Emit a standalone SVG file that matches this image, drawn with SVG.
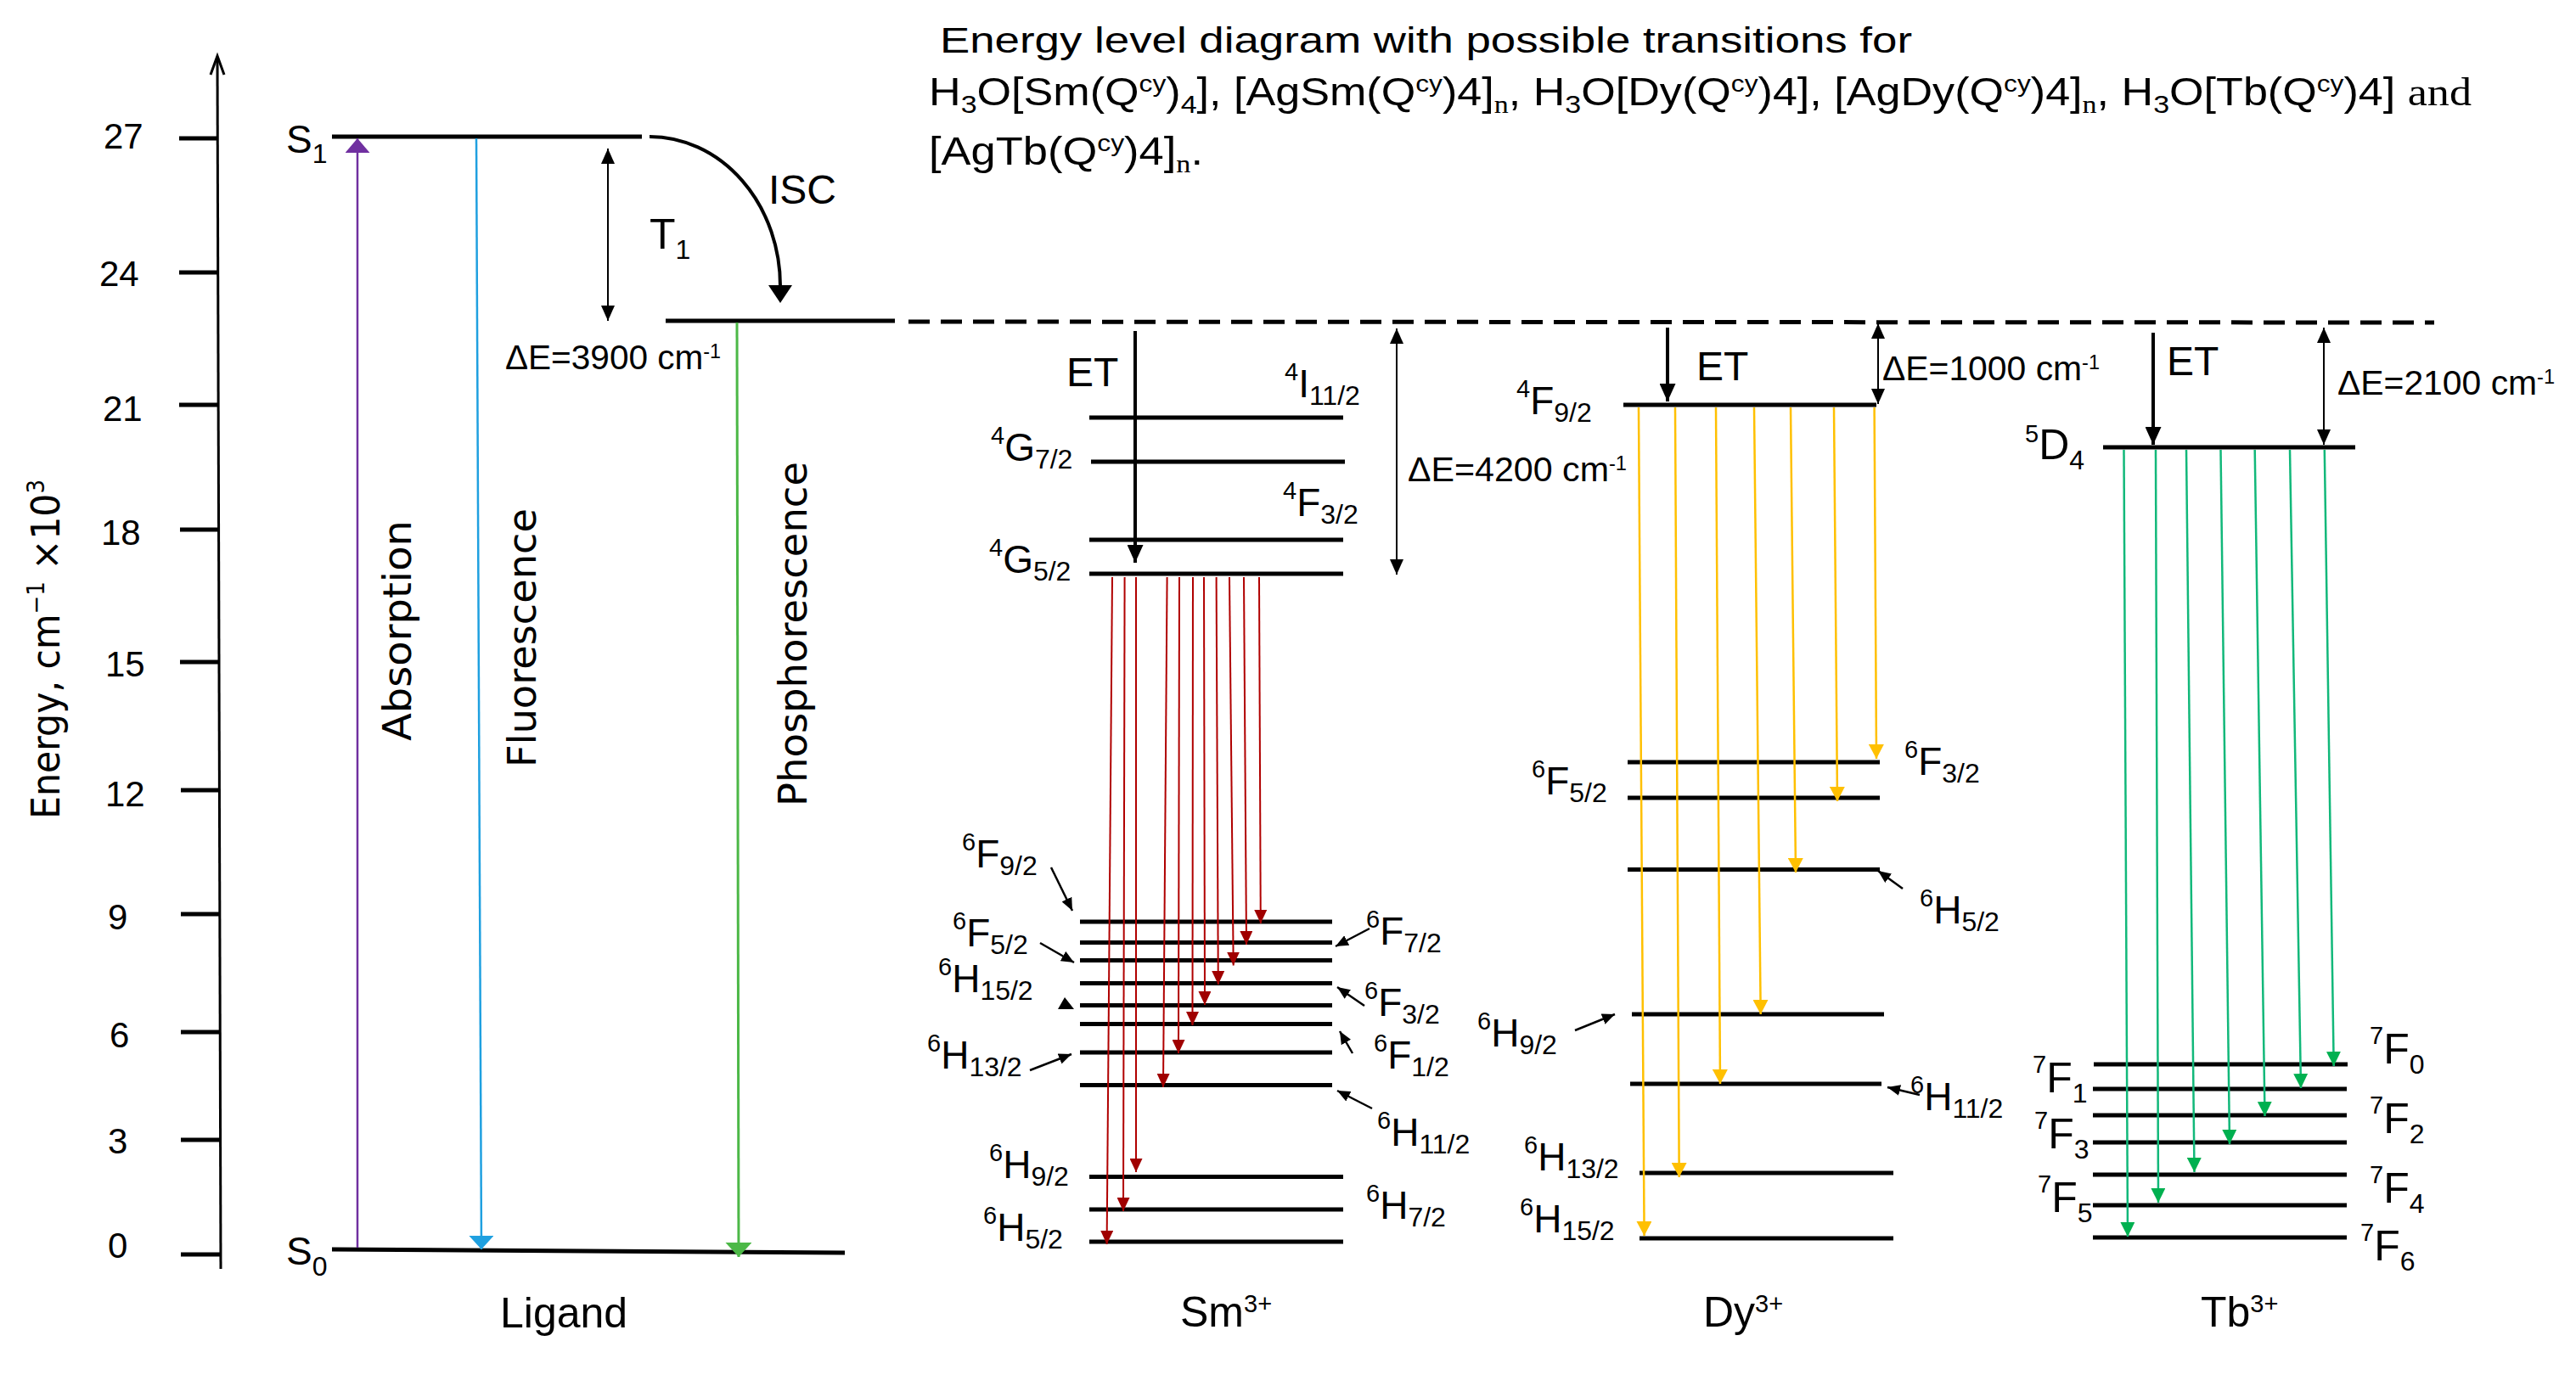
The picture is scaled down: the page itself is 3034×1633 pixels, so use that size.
<svg xmlns="http://www.w3.org/2000/svg" width="3034" height="1633" viewBox="0 0 3034 1633">
<defs>
<style>
text{font-family:"Liberation Sans",Arial,sans-serif;fill:#000}
.lv{stroke:#000;stroke-width:5;fill:none}
.lb{font-size:46px}
.su{font-size:29px}
.sb{font-size:32px}
.tb{font-size:50px}
.tk{font-size:42px}
.vt{font-family:"DejaVu Sans",Verdana,sans-serif;font-size:46px}
.de{font-size:40px}
.ds{font-size:23px}
.et{font-size:48px}
.ion{font-size:50px}
.t1{font-size:42px}
.t2{font-size:46px}
.tsub{font-size:30px}
.tsup{font-size:28px}
.serif{font-family:"Liberation Serif","Times New Roman",serif}
.red{stroke:#B00000;stroke-width:2;fill:none;marker-end:url(#mR)}
.yel{stroke:#FFC000;stroke-width:2.5;fill:none;marker-end:url(#mY)}
.grn{stroke:#12B87A;stroke-width:2.5;fill:none;marker-end:url(#mG)}
.dbl{stroke:#000;stroke-width:2;fill:none;marker-start:url(#mK);marker-end:url(#mK)}
.ptr{stroke:#000;stroke-width:2.5;fill:none;marker-end:url(#mS)}
.etA{stroke:#000;stroke-width:4;fill:none;marker-end:url(#mE)}
</style>
<marker id="mK" viewBox="0 0 18 16" refX="18" refY="8" markerWidth="18" markerHeight="16" markerUnits="userSpaceOnUse" orient="auto-start-reverse"><path d="M0,0L18,8L0,16z" fill="#000"/></marker>
<marker id="mS" viewBox="0 0 15 13" refX="15" refY="6.5" markerWidth="15" markerHeight="13" markerUnits="userSpaceOnUse" orient="auto"><path d="M0,0L15,6.5L0,13z" fill="#000"/></marker>
<marker id="mE" viewBox="0 0 21 19" refX="21" refY="9.5" markerWidth="21" markerHeight="19" markerUnits="userSpaceOnUse" orient="auto"><path d="M0,0L21,9.5L0,19z" fill="#000"/></marker>
<marker id="mR" viewBox="0 0 16 15" refX="16" refY="7.5" markerWidth="16" markerHeight="15" markerUnits="userSpaceOnUse" orient="auto"><path d="M0,0L16,7.5L0,15z" fill="#A00000"/></marker>
<marker id="mY" viewBox="0 0 17 18" refX="17" refY="9" markerWidth="17" markerHeight="18" markerUnits="userSpaceOnUse" orient="auto"><path d="M0,0L17,9L0,18z" fill="#FFC000"/></marker>
<marker id="mG" viewBox="0 0 17 17" refX="17" refY="8.5" markerWidth="17" markerHeight="17" markerUnits="userSpaceOnUse" orient="auto"><path d="M0,0L17,8.5L0,17z" fill="#00B050"/></marker>
<marker id="mP" viewBox="0 0 17 29" refX="17" refY="14.5" markerWidth="17" markerHeight="29" markerUnits="userSpaceOnUse" orient="auto"><path d="M0,0L17,14.5L0,29z" fill="#7030A0"/></marker>
<marker id="mB" viewBox="0 0 16 29" refX="16" refY="14.5" markerWidth="16" markerHeight="29" markerUnits="userSpaceOnUse" orient="auto"><path d="M0,0L16,14.5L0,29z" fill="#1FA0E0"/></marker>
<marker id="mF" viewBox="0 0 17 31" refX="17" refY="15.5" markerWidth="17" markerHeight="31" markerUnits="userSpaceOnUse" orient="auto"><path d="M0,0L17,15.5L0,31z" fill="#4CB847"/></marker>
</defs>
<rect width="3034" height="1633" fill="#fff"/>

<g id="title">
<text class="t1" x="1107" y="62" textLength="1145" lengthAdjust="spacingAndGlyphs">Energy level diagram with possible transitions for</text>
<text class="t2" x="1094" y="124" textLength="1817" lengthAdjust="spacingAndGlyphs">H<tspan class="tsub" dy="9">3</tspan><tspan dy="-9">O[Sm(Q</tspan><tspan class="tsup" dy="-16">cy</tspan><tspan dy="16">)</tspan><tspan class="tsub" dy="9">4</tspan><tspan dy="-9">], [AgSm(Q</tspan><tspan class="tsup" dy="-16">cy</tspan><tspan dy="16">)4]</tspan><tspan class="tsub serif" dy="9">n</tspan><tspan dy="-9">, H</tspan><tspan class="tsub" dy="9">3</tspan><tspan dy="-9">O[Dy(Q</tspan><tspan class="tsup" dy="-16">cy</tspan><tspan dy="16">)4], [AgDy(Q</tspan><tspan class="tsup" dy="-16">cy</tspan><tspan dy="16">)4]</tspan><tspan class="tsub serif" dy="9">n</tspan><tspan dy="-9">, H</tspan><tspan class="tsub" dy="9">3</tspan><tspan dy="-9">O[Tb(Q</tspan><tspan class="tsup" dy="-16">cy</tspan><tspan dy="16">)4] </tspan><tspan class="serif">and</tspan></text>
<text class="t2" x="1094" y="194" textLength="323" lengthAdjust="spacingAndGlyphs">[AgTb(Q<tspan class="tsup" dy="-16">cy</tspan><tspan dy="16">)4]</tspan><tspan class="tsub serif" dy="9">n</tspan><tspan dy="-9">.</tspan></text>
</g>

<g id="axis">
<line x1="256" y1="67" x2="260" y2="1495" stroke="#000" stroke-width="3"/>
<polyline points="248,88 256,66 264,88" fill="none" stroke="#000" stroke-width="3"/>
<g stroke="#000" stroke-width="5">
<line x1="211" y1="163" x2="257" y2="163"/>
<line x1="211" y1="321" x2="257" y2="321"/>
<line x1="211" y1="477" x2="257" y2="477"/>
<line x1="212" y1="624" x2="258" y2="624"/>
<line x1="212" y1="780" x2="258" y2="780"/>
<line x1="213" y1="931" x2="258" y2="931"/>
<line x1="213" y1="1077" x2="259" y2="1077"/>
<line x1="213" y1="1216" x2="259" y2="1216"/>
<line x1="213" y1="1343" x2="259" y2="1343"/>
<line x1="213" y1="1478" x2="259" y2="1478"/>
</g>
<text class="tk" x="122" y="175">27</text>
<text class="tk" x="117" y="337">24</text>
<text class="tk" x="121" y="496">21</text>
<text class="tk" x="119" y="642">18</text>
<text class="tk" x="124" y="797">15</text>
<text class="tk" x="124" y="950">12</text>
<text class="tk" x="127" y="1095">9</text>
<text class="tk" x="129" y="1234">6</text>
<text class="tk" x="127" y="1359">3</text>
<text class="tk" x="127" y="1482">0</text>
<text class="vt" transform="translate(70,965) rotate(-90)" x="0" y="0" font-size="44" textLength="400" lengthAdjust="spacingAndGlyphs">Energy, cm<tspan font-size="28" dy="-18">−1</tspan><tspan dy="18"> ×10</tspan><tspan font-size="28" dy="-18">3</tspan></text>
</g>

<g id="ligand">
<line class="lv" x1="391" y1="161" x2="756" y2="161"/>
<text class="lb" x="337" y="180">S<tspan class="sb" dy="12">1</tspan></text>
<line class="lv" x1="784" y1="378" x2="1054" y2="378"/>
<text class="tb" x="765" y="293">T<tspan class="sb" dy="12">1</tspan></text>
<path class="lv" d="M391,1472 L995,1476"/>
<text class="lb" x="337" y="1490">S<tspan class="sb" dy="13">0</tspan></text>
<text x="589" y="1564" font-size="50">Ligand</text>
<text x="905" y="240" font-size="48">ISC</text>
<text class="de" x="595" y="435" textLength="254" lengthAdjust="spacingAndGlyphs">ΔE=3900 cm<tspan class="ds" dy="-13">-1</tspan></text>
<text class="vt" transform="translate(484,873) rotate(-90)" x="0" y="0" fill="#7030A0" textLength="260" lengthAdjust="spacingAndGlyphs">Absorption</text>
<text class="vt" transform="translate(631,904) rotate(-90)" x="0" y="0" fill="#0070C0" textLength="305" lengthAdjust="spacingAndGlyphs">Fluorescence</text>
<text class="vt" transform="translate(950,950) rotate(-90)" x="0" y="0" fill="#92D050" textLength="406" lengthAdjust="spacingAndGlyphs">Phosphorescence</text>
</g>

<g id="sm">
<g class="lv">
<line x1="1283" y1="492" x2="1582" y2="492"/>
<line x1="1285" y1="544" x2="1584" y2="544"/>
<line x1="1283" y1="636" x2="1582" y2="636"/>
<line x1="1283" y1="676" x2="1582" y2="676"/>
<line x1="1272" y1="1086" x2="1569" y2="1086"/>
<line x1="1272" y1="1110.5" x2="1569" y2="1110.5"/>
<line x1="1272" y1="1131.5" x2="1569" y2="1131.5"/>
<line x1="1272" y1="1158.5" x2="1569" y2="1158.5"/>
<line x1="1272" y1="1184.5" x2="1569" y2="1184.5"/>
<line x1="1272" y1="1206.5" x2="1569" y2="1206.5"/>
<line x1="1272" y1="1240" x2="1569" y2="1240"/>
<line x1="1272" y1="1278.5" x2="1569" y2="1278.5"/>
<line x1="1283" y1="1386.5" x2="1582" y2="1386.5"/>
<line x1="1283" y1="1425" x2="1582" y2="1425"/>
<line x1="1283" y1="1463" x2="1582" y2="1463"/>
</g>
<text class="lb" x="1513" y="468"><tspan class="su" dy="-20">4</tspan><tspan dy="20">I</tspan><tspan class="sb" dy="9">11/2</tspan></text>
<text class="lb" x="1167" y="543"><tspan class="su" dy="-20">4</tspan><tspan dy="20">G</tspan><tspan class="sb" dy="9">7/2</tspan></text>
<text class="lb" x="1511" y="608"><tspan class="su" dy="-20">4</tspan><tspan dy="20">F</tspan><tspan class="sb" dy="9">3/2</tspan></text>
<text class="lb" x="1165" y="675"><tspan class="su" dy="-20">4</tspan><tspan dy="20">G</tspan><tspan class="sb" dy="9">5/2</tspan></text>
<text class="lb" x="1133" y="1022"><tspan class="su" dy="-20">6</tspan><tspan dy="20">F</tspan><tspan class="sb" dy="9">9/2</tspan></text>
<text class="lb" x="1122" y="1115"><tspan class="su" dy="-20">6</tspan><tspan dy="20">F</tspan><tspan class="sb" dy="9">5/2</tspan></text>
<text class="lb" x="1105" y="1169"><tspan class="su" dy="-20">6</tspan><tspan dy="20">H</tspan><tspan class="sb" dy="9">15/2</tspan></text>
<text class="lb" x="1092" y="1259"><tspan class="su" dy="-20">6</tspan><tspan dy="20">H</tspan><tspan class="sb" dy="9">13/2</tspan></text>
<text class="lb" x="1609" y="1113"><tspan class="su" dy="-20">6</tspan><tspan dy="20">F</tspan><tspan class="sb" dy="9">7/2</tspan></text>
<text class="lb" x="1607" y="1197"><tspan class="su" dy="-20">6</tspan><tspan dy="20">F</tspan><tspan class="sb" dy="9">3/2</tspan></text>
<text class="lb" x="1618" y="1259"><tspan class="su" dy="-20">6</tspan><tspan dy="20">F</tspan><tspan class="sb" dy="9">1/2</tspan></text>
<text class="lb" x="1622" y="1350"><tspan class="su" dy="-20">6</tspan><tspan dy="20">H</tspan><tspan class="sb" dy="9">11/2</tspan></text>
<text class="lb" x="1165" y="1388"><tspan class="su" dy="-20">6</tspan><tspan dy="20">H</tspan><tspan class="sb" dy="9">9/2</tspan></text>
<text class="lb" x="1609" y="1436"><tspan class="su" dy="-20">6</tspan><tspan dy="20">H</tspan><tspan class="sb" dy="9">7/2</tspan></text>
<text class="lb" x="1158" y="1462"><tspan class="su" dy="-20">6</tspan><tspan dy="20">H</tspan><tspan class="sb" dy="9">5/2</tspan></text>
<text class="et" x="1256" y="455">ET</text>
<text class="de" x="1658" y="567" textLength="258" lengthAdjust="spacingAndGlyphs">ΔE=4200 cm<tspan class="ds" dy="-13">-1</tspan></text>
<text class="ion" x="1390" y="1563">Sm<tspan class="su" dy="-17">3+</tspan></text>
</g>

<g id="dy">
<g class="lv">
<line x1="1912" y1="477" x2="2210" y2="477"/>
<line x1="1917" y1="898" x2="2214" y2="898"/>
<line x1="1917" y1="940" x2="2214" y2="940"/>
<line x1="1917" y1="1024.5" x2="2214" y2="1024.5"/>
<line x1="1922" y1="1195" x2="2219" y2="1195"/>
<line x1="1920" y1="1277" x2="2216" y2="1277"/>
<line x1="1931" y1="1382" x2="2230" y2="1382"/>
<line x1="1931" y1="1459" x2="2230" y2="1459"/>
</g>
<text class="lb" x="1786" y="488"><tspan class="su" dy="-20">4</tspan><tspan dy="20">F</tspan><tspan class="sb" dy="9">9/2</tspan></text>
<text class="lb" x="2243" y="913"><tspan class="su" dy="-20">6</tspan><tspan dy="20">F</tspan><tspan class="sb" dy="9">3/2</tspan></text>
<text class="lb" x="1804" y="936"><tspan class="su" dy="-20">6</tspan><tspan dy="20">F</tspan><tspan class="sb" dy="9">5/2</tspan></text>
<text class="lb" x="2261" y="1088"><tspan class="su" dy="-20">6</tspan><tspan dy="20">H</tspan><tspan class="sb" dy="9">5/2</tspan></text>
<text class="lb" x="1740" y="1233"><tspan class="su" dy="-20">6</tspan><tspan dy="20">H</tspan><tspan class="sb" dy="9">9/2</tspan></text>
<text class="lb" x="2250" y="1308"><tspan class="su" dy="-20">6</tspan><tspan dy="20">H</tspan><tspan class="sb" dy="9">11/2</tspan></text>
<text class="lb" x="1795" y="1379"><tspan class="su" dy="-20">6</tspan><tspan dy="20">H</tspan><tspan class="sb" dy="9">13/2</tspan></text>
<text class="lb" x="1790" y="1452"><tspan class="su" dy="-20">6</tspan><tspan dy="20">H</tspan><tspan class="sb" dy="9">15/2</tspan></text>
<text class="et" x="1998" y="448">ET</text>
<text class="de" x="2217" y="448" textLength="256" lengthAdjust="spacingAndGlyphs">ΔE=1000 cm<tspan class="ds" dy="-13">-1</tspan></text>
<text class="ion" x="2006" y="1563">Dy<tspan class="su" dy="-17">3+</tspan></text>
</g>

<g id="tb">
<g class="lv">
<line x1="2477" y1="527" x2="2774" y2="527"/>
<line x1="2466" y1="1254" x2="2765" y2="1254"/>
<line x1="2465" y1="1283" x2="2764" y2="1283"/>
<line x1="2465" y1="1314" x2="2764" y2="1314"/>
<line x1="2465" y1="1346" x2="2764" y2="1346"/>
<line x1="2465" y1="1384" x2="2764" y2="1384"/>
<line x1="2465" y1="1420" x2="2764" y2="1420"/>
<line x1="2465" y1="1458" x2="2764" y2="1458"/>
</g>
<text class="tb" x="2385" y="541"><tspan class="su" dy="-20">5</tspan><tspan dy="20">D</tspan><tspan class="sb" dy="12">4</tspan></text>
<text class="tb" x="2791" y="1253"><tspan class="su" dy="-23">7</tspan><tspan dy="23">F</tspan><tspan class="sb" dy="12">0</tspan></text>
<text class="tb" x="2394" y="1287"><tspan class="su" dy="-23">7</tspan><tspan dy="23">F</tspan><tspan class="sb" dy="12">1</tspan></text>
<text class="tb" x="2791" y="1335"><tspan class="su" dy="-23">7</tspan><tspan dy="23">F</tspan><tspan class="sb" dy="12">2</tspan></text>
<text class="tb" x="2396" y="1353"><tspan class="su" dy="-23">7</tspan><tspan dy="23">F</tspan><tspan class="sb" dy="12">3</tspan></text>
<text class="tb" x="2791" y="1417"><tspan class="su" dy="-23">7</tspan><tspan dy="23">F</tspan><tspan class="sb" dy="12">4</tspan></text>
<text class="tb" x="2400" y="1428"><tspan class="su" dy="-23">7</tspan><tspan dy="23">F</tspan><tspan class="sb" dy="12">5</tspan></text>
<text class="tb" x="2780" y="1485"><tspan class="su" dy="-23">7</tspan><tspan dy="23">F</tspan><tspan class="sb" dy="12">6</tspan></text>
<text class="et" x="2552" y="442">ET</text>
<text class="de" x="2753" y="465" textLength="256" lengthAdjust="spacingAndGlyphs">ΔE=2100 cm<tspan class="ds" dy="-13">-1</tspan></text>
<text class="ion" x="2592" y="1563">Tb<tspan class="su" dy="-17">3+</tspan></text>
</g>

<g id="connectors">
<line x1="421" y1="1470" x2="421" y2="163" stroke="#7030A0" stroke-width="2.5" marker-end="url(#mP)"/>
<line x1="561" y1="163" x2="567" y2="1472" stroke="#1FA0E0" stroke-width="2.5" marker-end="url(#mB)"/>
<line x1="868" y1="380" x2="870" y2="1481" stroke="#4CB847" stroke-width="3" marker-end="url(#mF)"/>
<path d="M765,161 A154,176 0 0 1 919,338" fill="none" stroke="#000" stroke-width="4"/>
<polygon points="905,336 933,336 919,357" fill="#000"/>
<line class="dbl" x1="716" y1="175" x2="716" y2="378"/>
<line x1="1070" y1="379" x2="2867" y2="380" stroke="#000" stroke-width="5" stroke-dasharray="25 13"/>
<line class="etA" x1="1337" y1="390" x2="1337" y2="663"/>
<line class="etA" x1="1964" y1="386" x2="1964" y2="473"/>
<line class="etA" x1="2536" y1="392" x2="2536" y2="524"/>
<line class="dbl" x1="1645" y1="387" x2="1645" y2="677"/>
<line class="dbl" x1="2212" y1="381" x2="2212" y2="476"/>
<line class="dbl" x1="2737" y1="386" x2="2737" y2="524"/>
<line class="red" x1="1310" y1="680" x2="1303.6" y2="1466"/>
<line class="red" x1="1324.6" y1="680" x2="1323" y2="1427"/>
<line class="red" x1="1338" y1="680" x2="1338" y2="1381"/>
<line class="red" x1="1374.6" y1="680" x2="1370" y2="1281"/>
<line class="red" x1="1389" y1="680" x2="1388" y2="1241"/>
<line class="red" x1="1405" y1="680" x2="1404.5" y2="1208"/>
<line class="red" x1="1418" y1="680" x2="1419" y2="1184"/>
<line class="red" x1="1432.6" y1="680" x2="1434.8" y2="1160"/>
<line class="red" x1="1448" y1="680" x2="1452.7" y2="1137.6"/>
<line class="red" x1="1465" y1="680" x2="1468" y2="1113"/>
<line class="red" x1="1483" y1="680" x2="1484.8" y2="1088"/>
<line class="yel" x1="1930" y1="480" x2="1936.6" y2="1456"/>
<line class="yel" x1="1973" y1="480" x2="1977.7" y2="1387"/>
<line class="yel" x1="2021" y1="480" x2="2026" y2="1277"/>
<line class="yel" x1="2066" y1="480" x2="2073.7" y2="1195"/>
<line class="yel" x1="2109" y1="480" x2="2115" y2="1028"/>
<line class="yel" x1="2160" y1="480" x2="2164" y2="944"/>
<line class="yel" x1="2207.6" y1="480" x2="2210" y2="894"/>
<line class="grn" x1="2501.5" y1="530" x2="2506" y2="1457"/>
<line class="grn" x1="2539" y1="530" x2="2542" y2="1417"/>
<line class="grn" x1="2575" y1="530" x2="2584.5" y2="1381"/>
<line class="grn" x1="2615.5" y1="530" x2="2626" y2="1348"/>
<line class="grn" x1="2655.7" y1="530" x2="2667.5" y2="1315"/>
<line class="grn" x1="2697" y1="530" x2="2710" y2="1282"/>
<line class="grn" x1="2737.8" y1="530" x2="2748.7" y2="1256"/>
<line class="ptr" x1="1238" y1="1022" x2="1263" y2="1073"/>
<line class="ptr" x1="1225" y1="1111" x2="1265" y2="1134"/>
<polygon points="1254,1175 1246,1189 1265,1189" fill="#000"/>
<line class="ptr" x1="1213" y1="1261" x2="1262" y2="1242"/>
<line class="ptr" x1="1613" y1="1094" x2="1573" y2="1115"/>
<line class="ptr" x1="1607" y1="1185" x2="1575" y2="1163"/>
<line class="ptr" x1="1593" y1="1241" x2="1578" y2="1215"/>
<line class="ptr" x1="1616" y1="1306" x2="1575" y2="1285"/>
<line class="ptr" x1="2241" y1="1047" x2="2212" y2="1026"/>
<line class="ptr" x1="1855" y1="1214" x2="1902" y2="1195"/>
<line class="ptr" x1="2261" y1="1290" x2="2223" y2="1281"/>
</g>
</svg>
